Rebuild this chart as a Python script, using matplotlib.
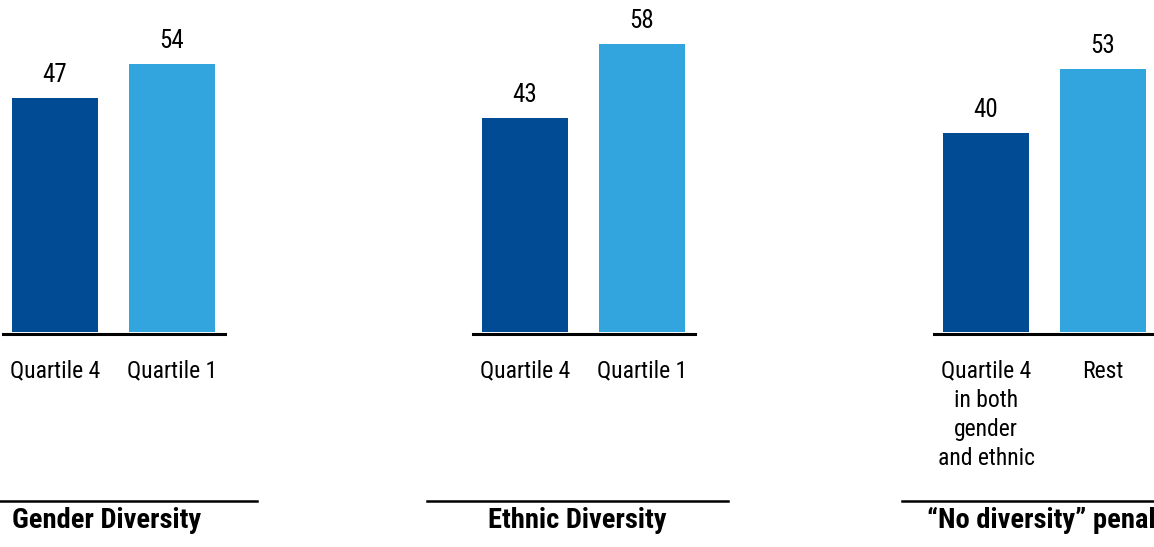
import matplotlib.pyplot as plt
from matplotlib.lines import Line2D

# Share of companies with above-average profitability, by diversity quartile
panel_titles = ["Gender Diversity", "Ethnic Diversity", "\u201cNo diversity\u201d penalty"]
categories = [
    ["Quartile 4", "Quartile 1"],
    ["Quartile 4", "Quartile 1"],
    ["Quartile 4\nin both\ngender\nand ethnic", "Rest"],
]
values = [
    [47, 54],
    [43, 58],
    [40, 53],
]

colors = ["#004B93", "#33A5DE"]
font = ["Liberation Sans Narrow", "Roboto Condensed", "Roboto", "DejaVu Sans"]
plt.rcParams["font.stretch"] = "condensed"

W, H = 1154, 547
fig = plt.figure(figsize=(W / 100, H / 100), dpi=100)

# pixel layout of each panel: left edge of the baseline, and of the title rule
axis_left = [3, 473, 934]
rule_left = [-44, 427, 902]
axis_w = 222
rule_w = 301
base_y = 332           # pixel row of the bar bottoms
px_per_unit = 4.97
bar_step = 117         # pixels between the two bar centres


def fx(px):
    return px / W


def fy(py):
    return 1 - py / H


for i in range(3):
    ax = fig.add_axes([fx(axis_left[i]), fy(base_y), fx(axis_w), base_y / H])
    x0 = -52 / bar_step
    ax.set_xlim(x0, x0 + axis_w / bar_step)
    ax.set_ylim(0, base_y / px_per_unit)

    xs = range(len(values[i]))
    bars = ax.bar(xs, values[i], width=86 / bar_step, color=colors, zorder=2)
    for b, v in zip(bars, values[i]):
        ax.annotate(f"{v}", (b.get_x() + b.get_width() / 2, v),
                    xytext=(0, 11.5), textcoords="offset points",
                    ha="center", va="baseline", fontsize=18, family=font)

    ax.axhline(-0.5, color="black", lw=2.2, clip_on=False, zorder=3)
    for s in ax.spines.values():
        s.set_visible(False)
    ax.set_yticks([])
    ax.set_xticks(list(xs))
    ax.set_xticklabels(categories[i], fontsize=17, family=font,
                       linespacing=1.33, va="top")
    ax.tick_params(axis="x", length=0, pad=20)

    # title rule and bold panel title underneath
    fig.add_artist(Line2D([fx(rule_left[i]), fx(rule_left[i] + rule_w)],
                          [fy(501), fy(501)], color="black", lw=1.8))
    fig.text(fx(rule_left[i] + rule_w / 2), fy(528), panel_titles[i],
             ha="center", va="baseline", fontsize=20.5, fontweight="bold",
             family=font)

fig.savefig("out.png", dpi=100)
